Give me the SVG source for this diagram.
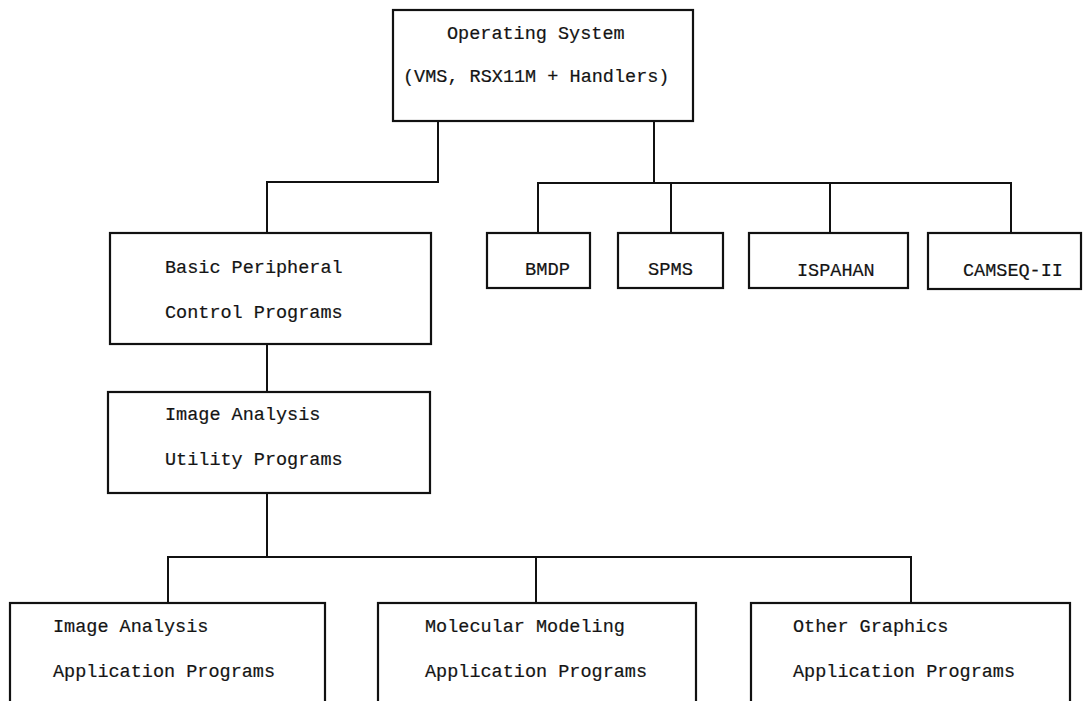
<svg xmlns="http://www.w3.org/2000/svg" width="1086" height="701" viewBox="0 0 1086 701">
  <style>
    .box { fill: #ffffff; stroke: #111111; stroke-width: 2.2; }
    .wire { fill: none; stroke: #111111; stroke-width: 2; }
    .lbl { font-family: "Liberation Mono", "DejaVu Sans Mono", monospace; font-size: 18.5px; fill: #141414; stroke: #141414; stroke-width: 0.2; }
  </style>
  <rect width="1086" height="701" fill="#ffffff"/>

  <!-- connectors -->
  <g id="connectors">
    <!-- operating system to peripheral control -->
    <path class="wire" d="M438,121 V182 H267 V233"/>
    <!-- operating system to statistics / modeling packages -->
    <path class="wire" d="M654,121 V183"/>
    <path class="wire" d="M538,233 V183 H1011 V233"/>
    <path class="wire" d="M671,183 V233"/>
    <path class="wire" d="M830,183 V233"/>
    <!-- peripheral control to utilities -->
    <path class="wire" d="M267,344 V392"/>
    <!-- utilities to applications -->
    <path class="wire" d="M267,493 V557"/>
    <path class="wire" d="M168,603 V557 H911 V603"/>
    <path class="wire" d="M536,557 V603"/>
  </g>

  <g id="os">
    <rect class="box" x="393" y="10" width="300" height="111"/>
    <text class="lbl" x="447" y="39">Operating System</text>
    <text class="lbl" x="403" y="82">(VMS, RSX11M + Handlers)</text>
  </g>

  <g id="peripheral">
    <rect class="box" x="110" y="233" width="321" height="111"/>
    <text class="lbl" x="165" y="273">Basic Peripheral</text>
    <text class="lbl" x="165" y="318">Control Programs</text>
  </g>

  <g id="utility">
    <rect class="box" x="108" y="392" width="322" height="101"/>
    <text class="lbl" x="165" y="420">Image Analysis</text>
    <text class="lbl" x="165" y="465">Utility Programs</text>
  </g>

  <g id="bmdp">
    <rect class="box" x="487" y="233" width="103" height="55"/>
    <text class="lbl" x="525" y="275" textLength="45" lengthAdjust="spacingAndGlyphs">BMDP</text>
  </g>

  <g id="spms">
    <rect class="box" x="618" y="233" width="105" height="55"/>
    <text class="lbl" x="648" y="275" textLength="45" lengthAdjust="spacingAndGlyphs">SPMS</text>
  </g>

  <g id="ispahan">
    <rect class="box" x="749" y="233" width="159" height="55"/>
    <text class="lbl" x="797" y="276">ISPAHAN</text>
  </g>

  <g id="camseq">
    <rect class="box" x="928" y="233" width="153" height="56"/>
    <text class="lbl" x="963" y="276">CAMSEQ-II</text>
  </g>

  <g id="image-apps">
    <rect class="box" x="10" y="603" width="315" height="110"/>
    <text class="lbl" x="53" y="632">Image Analysis</text>
    <text class="lbl" x="53" y="677">Application Programs</text>
  </g>

  <g id="molecular-apps">
    <rect class="box" x="378" y="603" width="318" height="110"/>
    <text class="lbl" x="425" y="632">Molecular Modeling</text>
    <text class="lbl" x="425" y="677">Application Programs</text>
  </g>

  <g id="graphics-apps">
    <rect class="box" x="751" y="603" width="319" height="110"/>
    <text class="lbl" x="793" y="632">Other Graphics</text>
    <text class="lbl" x="793" y="677">Application Programs</text>
  </g>
</svg>
